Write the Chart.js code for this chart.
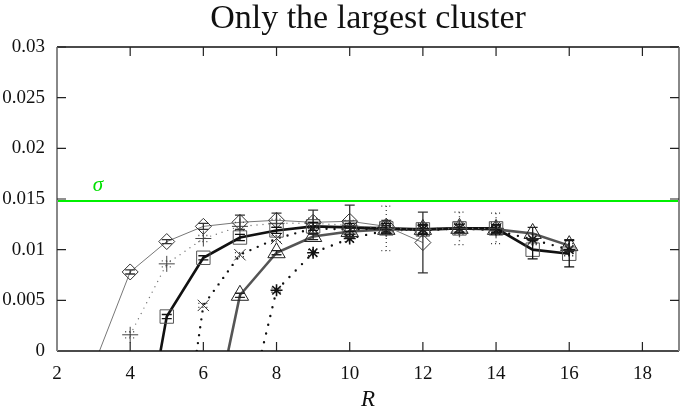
<!DOCTYPE html>
<html>
<head>
<meta charset="utf-8">
<script src="https://cdn.jsdelivr.net/npm/chart.js@4"></script>
<style>
  html, body { margin: 0; padding: 0; background: #fff; }
  #wrap { width: 681px; height: 408px; }
</style>
</head>
<body>
<div id="wrap"><canvas id="myChart" width="681" height="408"></canvas></div>
<script>
// ===== data ===== //
const chartTitle = 'Only the largest cluster'
const xTicks = [2, 4, 6, 8, 10, 12, 14, 16, 18]
const yTicks = [0, 0.005, 0.01, 0.015, 0.02, 0.025, 0.03]
const sigma = 0.0148

// R where each curve leaves the axis (null = starts at first point)
const diamondR = [4, 5, 6, 7, 8, 9, 10, 11, 12]
const diamondV = [0.0078, 0.0108, 0.0123, 0.0127, 0.0129, 0.0127, 0.0128, 0.0123, 0.0107]
const diamondErr = [0.0002, 0.0002, 0.0003, 0.0007, 0.0007, 0.0012, 0.0016, 0.0006, 0.0030]
const diamondZero = 3.16

const plusR = [4, 5, 6, 7, 8, 9, 10, 11, 12, 13, 14]
const plusV = [0.0016, 0.0086, 0.0111, 0.0123, 0.0126, 0.0126, 0.0124, 0.0121, 0.0120, 0.0121, 0.0121]
const plusErr = [0.0003, 0.0003, 0.0003, 0.0004, 0.0004, 0.0005, 0.0005, 0.0022, 0.0006, 0.0006, 0.0006]
const plusZero = null

const squareR = [5, 6, 7, 8, 9, 10, 11, 12, 13, 14, 15, 16]
const squareV = [0.0034, 0.0092, 0.0112, 0.0119, 0.0123, 0.0122, 0.0121, 0.0120, 0.0121, 0.0121, 0.0100, 0.0096]
const squareErr = [0.0002, 0.0002, 0.0003, 0.0003, 0.0004, 0.0004, 0.0005, 0.0005, 0.0004, 0.0004, 0.0009, 0.0013]
const squareZero = 4.83

const crossR = [6, 7, 8, 9, 10, 11, 12, 13, 14]
const crossV = [0.0045, 0.0095, 0.0111, 0.0121, 0.0120, 0.0121, 0.0119, 0.0121, 0.0121]
const crossErr = [0.0002, 0.0002, 0.0003, 0.0003, 0.0004, 0.0004, 0.0005, 0.0016, 0.0015]
const crossZero = 5.82

const triR = [7, 8, 9, 10, 11, 12, 13, 14, 15, 16]
const triV = [0.0055, 0.0097, 0.0113, 0.0118, 0.0120, 0.0120, 0.0121, 0.0120, 0.0116, 0.0104]
const triErr = [0.0002, 0.0002, 0.0003, 0.0003, 0.0004, 0.0004, 0.0004, 0.0004, 0.0006, 0.0006]
const triZero = 6.68

const starR = [8, 9, 10, 11, 12, 13, 14, 15, 16]
const starV = [0.0060, 0.0097, 0.0111, 0.0119, 0.0120, 0.0121, 0.0119, 0.0110, 0.0100]
const starErr = [0.0002, 0.0003, 0.0003, 0.0003, 0.0004, 0.0004, 0.0004, 0.0005, 0.0006]
const starZero = 7.6

const SERIF = "'Liberation Serif', 'DejaVu Serif', serif"

function makeSeries(rs, vs, errs, zero, style) {
    let data = []
    let radius = []
    let errors = []
    if (zero !== null) {
        data.push({ x: zero, y: 0 })
        radius.push(0)
        errors.push(0)
    }
    rs.forEach((r, i) => {
        data.push({ x: r, y: vs[i] })
        radius.push(style.r)
        errors.push(errs[i])
    })
    return {
        data: data,
        errors: errors,
        showLine: true,
        borderColor: style.line,
        borderWidth: style.lw,
        borderDash: style.dash || [],
        borderCapStyle: style.dash ? 'round' : 'butt',
        pointStyle: style.shape,
        pointRadius: radius,
        pointBorderColor: style.mark,
        pointBorderWidth: style.mw || 1,
        pointBackgroundColor: 'rgba(0,0,0,0)',
        errColor: style.err || style.mark,
        errDash: style.dash ? [1, 3] : [],
        tension: 0
    }
}

// ===== error bars, frame, inward ticks, labels ===== //
const extras = {
    id: 'extras',
    afterDatasetsDraw(chart) {
        const ctx = chart.ctx
        const xs = chart.scales.x
        const ys = chart.scales.y
        chart.data.datasets.forEach(ds => {
            if (!ds.errors) return
            ctx.save()
            ctx.strokeStyle = ds.errColor
            ctx.lineWidth = 1.3
            ctx.setLineDash(ds.errDash)
            ds.data.forEach((p, i) => {
                let e = ds.errors[i]
                if (!e) return
                let px = xs.getPixelForValue(p.x)
                let top = ys.getPixelForValue(p.y + e)
                let bot = ys.getPixelForValue(p.y - e)
                ctx.beginPath()
                ctx.moveTo(px, top); ctx.lineTo(px, bot)
                ctx.moveTo(px - 5, top); ctx.lineTo(px + 5, top)
                ctx.moveTo(px - 5, bot); ctx.lineTo(px + 5, bot)
                ctx.stroke()
            })
            ctx.restore()
        })
    },
    afterDraw(chart) {
        const ctx = chart.ctx
        const a = chart.chartArea
        const xs = chart.scales.x
        const ys = chart.scales.y
        ctx.save()
        // frame
        ctx.lineWidth = 1.5
        ctx.strokeStyle = '#111'
        ctx.beginPath()
        ctx.moveTo(a.left, a.top); ctx.lineTo(a.right, a.top)
        ctx.moveTo(a.left, a.bottom); ctx.lineTo(a.right, a.bottom)
        ctx.stroke()
        ctx.strokeStyle = '#888'
        ctx.lineWidth = 2
        ctx.beginPath()
        ctx.moveTo(a.left, a.top); ctx.lineTo(a.left, a.bottom)
        ctx.moveTo(a.right, a.top); ctx.lineTo(a.right, a.bottom)
        ctx.stroke()
        // ticks pointing in
        ctx.lineWidth = 1.2
        ctx.strokeStyle = '#222'
        ctx.beginPath()
        xTicks.forEach(v => {
            let px = xs.getPixelForValue(v)
            if (px <= a.left + 1) return
            ctx.moveTo(px, a.bottom); ctx.lineTo(px, a.bottom - 9)
            ctx.moveTo(px, a.top); ctx.lineTo(px, a.top + 9)
        })
        yTicks.forEach(v => {
            let py = ys.getPixelForValue(v)
            if (py >= a.bottom - 1) return
            ctx.moveTo(a.left, py); ctx.lineTo(a.left + 9, py)
            ctx.moveTo(a.right, py); ctx.lineTo(a.right - 9, py)
        })
        ctx.stroke()
        // title, centred over the plot box
        ctx.fillStyle = '#111'
        ctx.font = '34px ' + SERIF
        ctx.textAlign = 'center'
        ctx.textBaseline = 'alphabetic'
        ctx.fillText(chartTitle, (a.left + a.right) / 2, 28)
        // sigma label
        ctx.fillStyle = '#00e000'
        ctx.font = 'italic 21px ' + SERIF
        ctx.textBaseline = 'bottom'
        ctx.fillText('σ', xs.getPixelForValue(3.12), ys.getPixelForValue(sigma) - 5)
        ctx.restore()
    }
}

document.addEventListener('DOMContentLoaded', () => {
    let ctx = document.getElementById('myChart')

    let datasets = [
        {
            data: [{ x: 2, y: sigma }, { x: 19, y: sigma }],
            showLine: true,
            borderColor: '#00f000',
            borderWidth: 2,
            pointRadius: 0
        },
        makeSeries(diamondR, diamondV, diamondErr, diamondZero,
            { line: '#777', lw: 1, shape: 'rectRot', r: 8, mark: '#333' }),
        makeSeries(plusR, plusV, plusErr, plusZero,
            { line: '#777', lw: 1.4, dash: [0, 6], shape: 'cross', r: 8, mark: '#444' }),
        makeSeries(squareR, squareV, squareErr, squareZero,
            { line: '#111', lw: 2.6, shape: 'rect', r: 9.5, mark: '#555', err: '#111' }),
        makeSeries(crossR, crossV, crossErr, crossZero,
            { line: '#111', lw: 2.4, dash: [0, 8], shape: 'crossRot', r: 8, mark: '#333' }),
        makeSeries(triR, triV, triErr, triZero,
            { line: '#555', lw: 2.6, shape: 'triangle', r: 10, mark: '#222' }),
        makeSeries(starR, starV, starErr, starZero,
            { line: '#111', lw: 2.4, dash: [0, 9], shape: 'star', r: 6, mark: '#111', mw: 1.6 })
    ]

    new Chart(ctx, {
        type: 'scatter',
        data: { datasets: datasets },
        options: {
            responsive: false,
            animation: false,
            layout: { autoPadding: false, padding: { top: 47, right: 2, bottom: 0, left: 0 } },
            plugins: {
                legend: { display: false },
                tooltip: { enabled: false },
                title: { display: false }
            },
            scales: {
                x: {
                    type: 'linear',
                    min: 2,
                    max: 19,
                    afterBuildTicks: s => { s.ticks = xTicks.map(v => ({ value: v })) },
                    afterFit: s => { s.height = 57; s.paddingLeft = 0; s.paddingRight = 0 },
                    grid: { display: false, drawTicks: false },
                    border: { display: false },
                    ticks: {
                        color: '#111',
                        padding: 12,
                        maxRotation: 0,
                        font: { family: SERIF, size: 19 }
                    },
                    title: {
                        display: true,
                        text: 'R',
                        color: '#111',
                        font: { family: SERIF, size: 23, style: 'italic' },
                        padding: { top: 0, bottom: -6 }
                    }
                },
                y: {
                    min: 0,
                    max: 0.03,
                    afterBuildTicks: s => { s.ticks = yTicks.map(v => ({ value: v })) },
                    afterFit: s => { s.width = 57; s.paddingTop = 0; s.paddingBottom = 0 },
                    grid: { display: false, drawTicks: false },
                    border: { display: false },
                    ticks: {
                        color: '#111',
                        padding: 12,
                        callback: v => String(v),
                        font: { family: SERIF, size: 19 }
                    }
                }
            }
        },
        plugins: [extras]
    })
})
</script>
</body>
</html>
